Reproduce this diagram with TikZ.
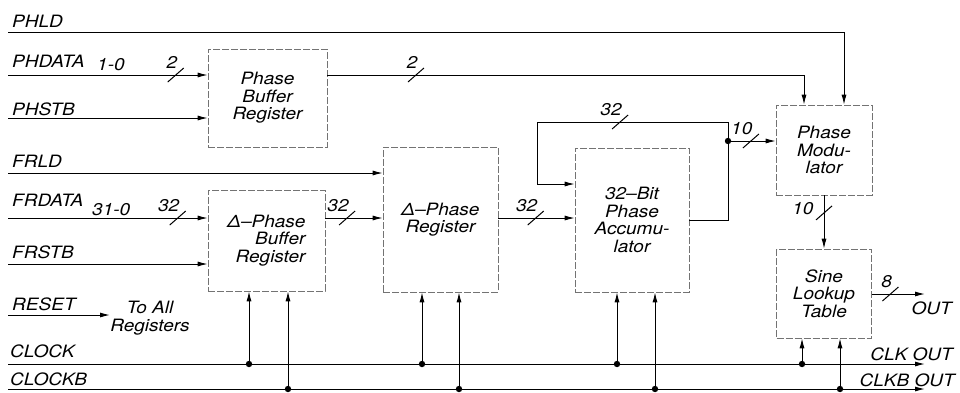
\documentclass[tikz,border=0pt]{standalone}
\usepackage{fontspec}
\setmainfont{TeX Gyre Heros}[FakeStretch=1.12]
\usetikzlibrary{arrows.meta,positioning,calc}

\begin{document}
\begin{tikzpicture}[x=1pt, y=-1pt,
  font=\fontsize{17}{17.5}\selectfont\itshape,
  reg/.style={draw=black!55, line width=0.6pt, dash pattern=on 7pt off 2pt,
              inner sep=0pt, align=center},
  arr/.style={-{Latex[length=10pt,width=5pt]}, line width=1pt},
  sig/.style={inner sep=0pt, anchor=base west},
  num/.style={inner sep=0pt, anchor=south east, xshift=2pt, yshift=6pt},
  numl/.style={inner sep=0pt, anchor=east, xshift=-10pt, yshift=4pt},
  pics/bus/.style={code={\draw[-, line width=1pt] (-8pt,-7pt) -- (8pt,7pt);}}]
\useasboundingbox (0,0) rectangle (960,392);
% ---- registers ----
\node[reg, minimum width=119pt, minimum height=98pt] (pbr) at (267.5,98)
  {Phase\\Buffer\\Register};
\node[reg, minimum width=117pt, minimum height=101pt, align=right] (dpbr) at (266.5,240.5)
  {Δ–Phase\\Buffer\\Register};
\node[reg, minimum width=115pt, minimum height=145pt] (dpr) at (440.5,219.5)
  {Δ–Phase\\Register};
\node[reg, minimum width=114pt, minimum height=144pt] (acc) at (632,220)
  {32–Bit\\Phase\\Accumu-\\lator};
\node[reg, minimum width=96pt, minimum height=90pt] (pm) at (824,150)
  {Phase\\Modu-\\lator};
\node[reg, minimum width=95pt, minimum height=89pt] (slt) at (824,293.5)
  {Sine\\Lookup\\Table};
% ---- signal names ----
\node[sig] (phldT) at (12,27) {PHLD};
\node[sig] (phdataT) at (12,67) {PHDATA};
\node[sig] (phdataR) at (97,70) {1-0};
\node[sig] (phstbT) at (12,115) {PHSTB};
\node[sig] (frldT) at (12,167) {FRLD};
\node[sig] (frdataT) at (12,206) {FRDATA};
\node[sig] (frdataR) at (92,215) {31-0};
\node[sig] (frstbT) at (12,258) {FRSTB};
\node[sig] (resetT) at (12,310) {RESET};
\node[sig] (clockT) at (10,357) {CLOCK};
\node[sig] (clockbT) at (10,385) {CLOCKB};
\node[align=center, inner sep=0pt] (toall) at (150,318) {To All\\Registers};
\node[sig, anchor=base east] (clkoutT) at (953,360) {CLK OUT};
\node[sig, anchor=base east] (clkboutT) at (955,386) {CLKB OUT};
\node[sig, anchor=north east] (outT) at (952,302) {OUT};
% ---- wire ends ----
\coordinate (phld) at (8,32);
\coordinate (phdata) at (8,75);
\coordinate (phstb) at (8,118);
\coordinate (frld) at (8,173);
\coordinate (frdata) at (8,218);
\coordinate (frstb) at (8,264);
\coordinate (reset) at (8,315);
\coordinate (resetE) at (110,315);
\coordinate (clock) at (8,364);
\coordinate (clkout) at (925,364);
\coordinate (clockb) at (8,389);
\coordinate (clkbout) at (925,389);
\coordinate (tap) at (728,141);
\coordinate (fbtop) at (537,122);
\coordinate (out) at (925,294);
% ---- phase path ----
\draw[arr] (phld) -| ([xshift=20pt]pm.north);
\draw[arr] (phdata) -- pic[pos=.84]{bus} node[pos=.84, num] {2} (pbr.west |- phdata);
\draw[arr] (phstb) -- (pbr.west |- phstb);
\draw[arr] (pbr.east |- phdata) -| pic[pos=.093]{bus} node[pos=.093, num] {2}
  ([xshift=-20pt]pm.north);
% ---- frequency path ----
\draw[arr] (frld) -- (dpr.west |- frld);
\draw[arr] (frdata) -- pic[pos=.85]{bus} node[pos=.85, num] {32} (dpbr.west |- frdata);
\draw[arr] (frstb) -- (dpbr.west |- frstb);
\draw[arr] (dpbr.east |- frdata) -- pic[pos=.38]{bus} node[pos=.38, num] {32}
  (dpr.west |- frdata);
\draw[arr] (dpr.east |- frdata) -- pic[pos=.49]{bus} node[pos=.49, num] {32}
  (acc.west |- frdata);
\draw[arr] (acc.east) -| (tap) -- (tap |- fbtop)
  -- pic[pos=.565]{bus} node[pos=.565, num] {32} (fbtop)
  |- ([yshift=36pt]acc.west);
\fill (tap) circle (3.2pt);
\draw[arr] (tap) -- pic[pos=.48]{bus} node[pos=.48, num] {10} (pm.west |- tap);
\draw[arr] (pm.south) -- pic[pos=.33]{bus} node[pos=.33, numl] {10} (slt.north);
\draw[arr] (slt.east |- out) -- pic[pos=.35]{bus} node[pos=.35, num] {8} (out);
% ---- reset and clocks ----
\draw[arr] (reset) -- (resetE);
\draw[arr] (clock) -- (clkout);
\draw[arr] (clockb) -- (clkbout);
\foreach \b/\xa/\xb in {dpbr/249/288, dpr/422/459, acc/617/655, slt/802/840} {
  \coordinate (ta) at (\xa,364);
  \coordinate (tb) at (\xb,389);
  \draw[arr] (ta) -- (\b.south -| ta);
  \draw[arr] (tb) -- (\b.south -| tb);
  \fill (ta) circle (3.2pt) (tb) circle (3.2pt);
}
\end{tikzpicture}
\end{document}
